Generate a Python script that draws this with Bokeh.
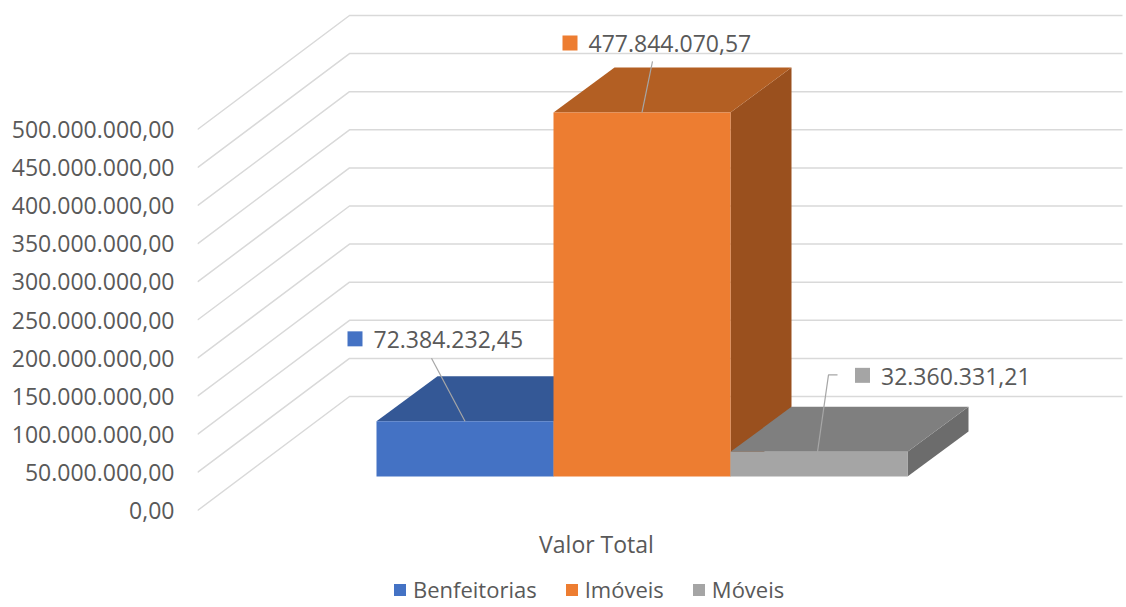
from bokeh.plotting import figure
from bokeh.models import Range1d, LinearAxis, FixedTicker, Legend, LegendItem
from bokeh.core.properties import value
from bokeh.embed import file_html
from bokeh.resources import INLINE

# ---------------- data ----------------
categories = ["Benfeitorias", "Imóveis", "Móveis"]
values = [72384232.45, 477844070.57, 32360331.21]
y_ticks = [0, 50000000, 100000000, 150000000, 200000000, 250000000,
           300000000, 350000000, 400000000, 450000000, 500000000]
axis_title = "Valor Total"

front_colors = ["#4472C4", "#ED7D31", "#A5A5A5"]
top_colors = ["#345896", "#B35F23", "#7F7F7F"]
side_colors = ["#2B4A80", "#9A501E", "#6C6C6C"]


def br(v):
    s = f"{v:,.2f}"
    return s.replace(",", "X").replace(".", ",").replace("X", ".")


# ---------------- layout constants ----------------
W, H = 1126, 607
FONT = "Open Sans"
TXT = "#595959"
FS = "23px"
K = 381 / 500e6          # px per value unit on the vertical scale


def dv(px):
    return px / K


Y0 = 510                 # page y of value 0 at front-left wall edge
FRAME_LEFT = 197
WALL_X0, WALL_DX, WALL_RIGHT = 197, 152, 1122
WALL_DV = dv(114)
BAR_X0, BAR_W = 376, 177
BASE_V = dv(34)
DEPTH_DX, DEPTH_DV = 61, dv(45)

LABEL_OFF = [(-110, 82.5), (-72, 69.5), (43.5, 76.5)]
LEADERS = [[(-33.5, 63), (0, 0)], [(10.5, 51), (0, 0)],
           [(18.5, 77), (9.5, 77), (-1.5, 0)]]

p = figure(width=W, height=H, output_backend="svg", toolbar_location=None,
           x_range=Range1d(FRAME_LEFT, W), y_range=Range1d(-dv(H - Y0), dv(Y0)),
           x_axis_type=None, y_axis_type=None,
           min_border_left=FRAME_LEFT, min_border_right=0, min_border_top=0, min_border_bottom=0)
p.outline_line_color = None
p.xgrid.visible = False
p.ygrid.visible = False
p.background_fill_color = "white"
p.border_fill_color = "white"

# y axis
yax = LinearAxis(ticker=FixedTicker(ticks=y_ticks))
yax.major_label_overrides = {t: br(t) for t in y_ticks}
yax.axis_line_color = None
yax.major_tick_line_color = None
yax.minor_tick_line_color = None
yax.major_tick_out = 0
yax.major_label_standoff = 23
yax.major_label_text_font = FONT
yax.major_label_text_font_size = FS
yax.major_label_text_color = TXT
p.add_layout(yax, "left")

# wall gridlines
gx = [[WALL_X0, WALL_X0 + WALL_DX, WALL_RIGHT] for t in y_ticks]
gy = [[t, t + WALL_DV, t + WALL_DV] for t in y_ticks]
p.multi_line(gx, gy, line_color="#D9D9D9", line_width=1.5)

# bars
front_r = []
for i, v in enumerate(values):
    x0 = BAR_X0 + i * BAR_W
    x1 = x0 + BAR_W
    b = BASE_V
    t = BASE_V + v
    p.patch([x1, x1 + DEPTH_DX, x1 + DEPTH_DX, x1], [b, b + DEPTH_DV, t + DEPTH_DV, t],
            fill_color=side_colors[i], line_color=None)
    p.patch([x0, x1, x1 + DEPTH_DX, x0 + DEPTH_DX], [t, t, t + DEPTH_DV, t + DEPTH_DV],
            fill_color=top_colors[i], line_color=None)
    r = p.quad(left=x0, right=x1, bottom=b, top=t, fill_color=front_colors[i], line_color=None)
    front_r.append(r)

# data labels
for i, v in enumerate(values):
    cx = BAR_X0 + i * BAR_W + BAR_W / 2
    cy = BASE_V + v
    lx = [cx + a for a, _ in LEADERS[i]]
    ly = [cy + dv(b) for _, b in LEADERS[i]]
    p.line(lx, ly, line_color="#A6A6A6", line_width=1.2)
    mx = cx + LABEL_OFF[i][0]
    my = cy + dv(LABEL_OFF[i][1])
    p.scatter([mx], [my], marker="square", size=15, fill_color=front_colors[i], line_color=None)
    p.text([mx + 18.5], [my - dv(1)], text=[br(v)], text_font=value(FONT), text_font_size=FS,
           text_color=TXT, text_align="left", text_baseline="middle")

# axis title
p.text([596], [-dv(33)], text=[axis_title], text_font=value(FONT), text_font_size=FS,
       text_color=TXT, text_align="center", text_baseline="middle")

legend = Legend(items=[LegendItem(label=c, renderers=[front_r[i]]) for i, c in enumerate(categories)],
                orientation="horizontal", location=(195, 3),
                glyph_width=15, glyph_height=15, label_standoff=6, spacing=27,
                padding=0, margin=0, border_line_color=None, background_fill_alpha=0,
                label_text_font=FONT, label_text_font_size="22px", label_text_color=TXT)
p.add_layout(legend)

open("out.html", "w").write(file_html(p, INLINE))
